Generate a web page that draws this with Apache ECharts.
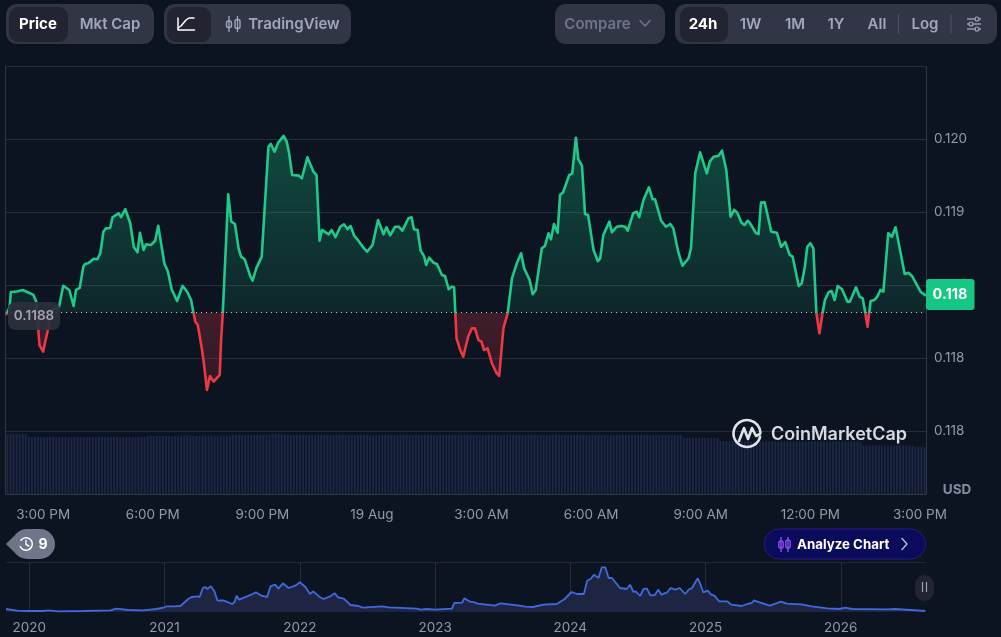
<!DOCTYPE html>
<html>
<head>
<meta charset="utf-8">
<style>html,body{margin:0;padding:0;background:#0d1421;overflow:hidden}#c{width:1001px;height:637px}</style>
<script src="https://cdn.jsdelivr.net/npm/echarts@6/dist/echarts.min.js"></script>
</head>
<body>
<div id="c"></div>
<script>
// minutes after 3:00 PM on 18 Aug
const minutes = [-61,-55,-53,-43,-34,-26,-16,-11,-10,-8,-6,0,3,7,11,16,26,33,43,45,50,54,60,66,69,74,83,89,94,99,103,110,114,124,128,135,143,149,155,159,165,169,177,184,189,199,205,211,220,229,237,243,247,250,254,261,264,269,274,280,290,292,295,304,309,315,321,325,331,340,344,350,359,370,374,380,386,395,400,404,409,420,425,434,444,449,454,458,469,474,480,488,494,500,505,511,516,526,532,535,541,550,559,564,570,578,584,590,600,605,609,615,620,626,629,634,641,647,655,660,666,671,675,677,679,685,690,698,704,709,715,720,724,730,737,745,749,756,763,770,778,785,790,799,804,809,819,824,830,834,839,845,849,854,864,869,875,879,885,890,895,904,911,915,920,930,934,942,950,956,960,969,975,979,986,995,1001,1005,1015,1023,1026,1030,1035,1043,1050,1060,1064,1071,1079,1090,1095,1101,1109,1115,1122,1129,1135,1140,1147,1152,1157,1161,1171,1175,1179,1185,1196,1205,1212,1219,1226,1231,1241,1246,1251,1255,1260,1265,1270,1275,1280,1284,1290,1295,1300,1305,1312,1321,1325,1335,1341,1346,1350,1354,1359,1365,1370,1375,1380,1388,1394,1400,1415,1421,1427,1441,1450];
const prices = [0.118795,0.118849,0.118952,0.118956,0.118966,0.118952,0.118932,0.118884,0.118795,0.118692,0.118589,0.118543,0.118603,0.118678,0.118774,0.118829,0.118849,0.118995,0.118966,0.118954,0.118856,0.118966,0.118980,0.119125,0.119144,0.119149,0.119180,0.119176,0.119219,0.119365,0.119388,0.119390,0.119464,0.119491,0.119464,0.119519,0.119423,0.119258,0.119224,0.119358,0.119240,0.119279,0.119274,0.119303,0.119406,0.119149,0.119091,0.118971,0.118890,0.118995,0.118950,0.118897,0.118806,0.118749,0.118726,0.118555,0.118464,0.118281,0.118377,0.118338,0.118384,0.118601,0.118806,0.119621,0.119434,0.119418,0.119251,0.119194,0.119176,0.119062,0.119030,0.119114,0.119194,0.119947,0.119966,0.119913,0.119975,0.120021,0.119982,0.119902,0.119753,0.119749,0.119731,0.119875,0.119776,0.119753,0.119303,0.119377,0.119347,0.119377,0.119327,0.119399,0.119416,0.119382,0.119404,0.119336,0.119313,0.119256,0.119228,0.119221,0.119274,0.119445,0.119347,0.119395,0.119340,0.119399,0.119399,0.119372,0.119457,0.119464,0.119382,0.119377,0.119235,0.119194,0.119137,0.119187,0.119153,0.119142,0.119069,0.119062,0.118971,0.118988,0.118984,0.118806,0.118635,0.118555,0.118509,0.118646,0.118703,0.118703,0.118623,0.118612,0.118555,0.118566,0.118464,0.118395,0.118377,0.118706,0.118806,0.119046,0.119149,0.119217,0.119114,0.119034,0.118936,0.118966,0.119251,0.119267,0.119354,0.119313,0.119418,0.119358,0.119616,0.119635,0.119753,0.119765,0.120009,0.119861,0.119817,0.119486,0.119479,0.119240,0.119164,0.119183,0.119342,0.119434,0.119361,0.119399,0.119404,0.119399,0.119372,0.119491,0.119502,0.119464,0.119582,0.119669,0.119587,0.119587,0.119440,0.119399,0.119388,0.119418,0.119388,0.119228,0.119132,0.119183,0.119251,0.119765,0.119909,0.119765,0.119845,0.119879,0.119884,0.119920,0.119788,0.119468,0.119514,0.119495,0.119427,0.119411,0.119440,0.119423,0.119354,0.119349,0.119564,0.119566,0.119365,0.119358,0.119262,0.119293,0.119206,0.119194,0.118993,0.119012,0.119125,0.119262,0.119286,0.119251,0.118806,0.118669,0.118806,0.118897,0.118950,0.118959,0.118897,0.118993,0.118971,0.118886,0.118886,0.118984,0.118920,0.118909,0.118817,0.118714,0.118890,0.118897,0.118920,0.118966,0.118954,0.119354,0.119331,0.119395,0.119075,0.119084,0.119062,0.118954,0.118927];
const basePrice = 0.11881;
const basePriceLabel = '0.1188';
const lastPriceLabel = '0.118';
const timeTicks = [0,180,360,540,720,900,1080,1260,1440];
const timeLabels = ['3:00 PM','6:00 PM','9:00 PM','19 Aug','3:00 AM','6:00 AM','9:00 AM','12:00 PM','3:00 PM'];
const priceTicks = [0.1175,0.118,0.1185,0.119,0.1195,0.12,0.1205];
const priceLabels = ['','0.118','0.118','','0.119','0.120',''];
const volumes = [
60,60,60,60,60,60,60,57,57,57,57,57,57,57,57,57,57,57,57,57,
57,57,57,57,57,57,57,57,57,57,57,57,57,57,57,57,57,57,57,57,
57,57,57,57,57,57,58,58,58,58,58,58,58,58,57.5,57.5,58,58.5,58.5,58.5,
58.5,58.5,58,58,58.5,58.5,58.5,58.5,58,58,58.5,58.5,58.5,58.5,59,59,59,59,59,59,
59,59,59,59,59,59,59,60,60,60,59.5,59.5,59,59,59,59,59,59,59,59,
59,59,59.5,59,59,59,59,59,59,59,59,59,59,59,59,59,59,59,59,59,
59,58.5,59,59,59,59,59,59,59,59,59,59,59,59,59,59,59,59,59,59,
59,59,59,59,59,59,59,59,59,59,59,59,59,59,59,59,59,59,59,59,
59,59,59,59,59.5,59.5,59,59,59,59,59,59,59,59,59,59,59,59,59,59,
59.5,59,59,59,59,59,59,59,59,59,59,59,59,59,59,59,59,59,59,59,
59,59,59,59,59,59,59,59,59,59,59,59,59,59,59,59,59,59,59,59,
59,59,56,56,56,56,56,56,56,56,56,56,56,56,53,53,53,53,53,52.5,
52.5,52.5,52.5,52.5,52.5,52.5,52.5,52.5,52.5,52.5,52.5,52.5,52.5,52.5,52.5,52.5,52.5,52.5,52.5,52.5,
52.5,52.5,52.5,52.5,52.5,52.5,52.5,52.5,52.5,52.5,52.5,52.5,52.5,52.5,52.5,52.5,52.5,52.5,52.5,52.5,
52,48.5,48.5,48.5,48.5,48.5,48.5,48.5,48.5,48.5,48.5,48.5,48.5,48.5,48.5,48.5,48.5,48.5,47,47,
47,47];
// all-time overview: months after Jan 2020, and price index
const navMonths = [-2.07,-1.1,0,1.2,1.7,2.6,4.8,7.2,7.7,8.8,10.1,11.3,12,12.2,12.9,13.4,14.1,14.4,14.9,15.1,15.4,15.6,15.8,16.1,16.4,16.7,17.2,18,18.2,18.4,18.6,19.1,19.7,20.1,20.6,21.1,21.4,21.8,22.1,22.5,23,23.6,24,24.5,24.6,24.9,25.2,25.8,26.1,26.7,27.1,27.4,27.9,28.5,29.2,29.6,31.3,31.9,34.4,34.7,35.3,36,37.5,37.7,38.4,38.6,39.1,39.5,39.8,41.3,41.8,43.5,44,44.7,45.6,46.8,47.5,48.1,48.6,49.2,49.5,49.8,50.1,50.5,50.8,51.1,51.4,51.7,52.4,53,53.3,53.6,53.8,54.2,54.5,54.8,55.1,55.5,55.8,56.1,56.6,56.9,57.3,57.7,58.2,58.5,58.8,59.3,59.5,59.8,60.2,60.5,60.8,61.2,61.9,62.3,63.2,63.8,64.1,64.3,64.8,65.7,66.7,67.2,68.5,69.4,70.8,71.9,72.4,73,76.1,76.8,79.5];
const navValues = [3,1.3,1,1,1.7,0.7,1,1.7,3.3,2,1.7,3,4.7,5.7,5.7,6,13,15,15.7,14.7,24,25,23,25.7,21.3,11.3,11.7,8,9.7,16.3,12.3,14.7,17.3,19.7,16.3,15,25.7,27.3,23.3,28.7,24,26.3,29.7,25,26.3,18,20.7,14.7,13,15.7,18.7,14.7,13.3,7,6,4.3,5.7,4.7,3.3,2.3,3,2.3,3.3,9,9.3,13.7,10.3,9.7,8.3,6.3,8.7,6.3,5.3,5,7.3,8,13,20,18,18,31.3,33,37.3,34,44.7,44.7,34,34,24,23,27.3,20,20.7,16,23,23.3,16.7,17,22.3,17.3,19.7,24,22.3,24,18,22.3,24,33.7,29,19.7,21.3,17.3,16.3,10.7,10.7,7.3,6,8.3,9,11.7,9.7,6.3,10.3,8.3,7.7,5.7,3.7,3,4.3,3,2.7,3,1];
const navTicks = [0,12,24,36,48,60,72];
const navLabels = ['2020','2021','2022','2023','2024','2025','2026'];
const leftTabs = ['Price','Mkt Cap'];
const rangeTabs = ['24h','1W','1M','1Y','All','Log'];

const UP='#1fc98a', DOWN='#ea3943', BORDER='#272c3a', PILL='#323546', ACTIVE='#222531', MUTED='#a1a7bb', AXIS='#9399ad';
const FONT='Inter, "Noto Sans", sans-serif';
const maxP=Math.max(...prices), minP=Math.min(...prices), split=(maxP-basePrice)/(maxP-minP);

const rect=(x,y,w,h,r,fill,extra)=>({type:'rect',silent:true,z:50,shape:{x,y,width:w,height:h,r},style:Object.assign({fill},extra||{})});
const label=(t,x,y,fill,font,align)=>({type:'text',silent:true,z:60,x,y,style:{text:t,fill,font:font+' '+FONT,textAlign:align||'center',textVerticalAlign:'middle'}});
const poly=(pts,stroke,w)=>({type:'polyline',silent:true,z:60,shape:{points:pts},style:{stroke,lineWidth:w||1.5,fill:null,lineCap:'round',lineJoin:'round'}});
const seg=(x1,y1,x2,y2,stroke,w)=>({type:'line',silent:true,z:60,shape:{x1,y1,x2,y2},style:{stroke,lineWidth:w||1}});
const candleIcon=(x,c)=>[
  seg(x,16,x,32,c,1.3),seg(x+8.5,16,x+8.5,32,c,1.3),
  rect(x-2.5,21,5,6.5,2,PILL,{stroke:c,lineWidth:1.4}),rect(x+6,19.5,5,9,2,PILL,{stroke:c,lineWidth:1.4})];

const chrome=[
  // frame of the price pane
  {type:'polyline',silent:true,z:0,shape:{points:[[5.5,494],[5.5,66.5],[926.5,66.5],[926.5,494]]},style:{stroke:PILL,lineWidth:1,fill:null}},
  // left tabs
  rect(6,4,148,40,11,PILL),rect(9,7,59,35,9,ACTIVE),
  label(leftTabs[0],38,24.5,'#fff','700 15px'),label(leftTabs[1],110,24.5,MUTED,'600 15px'),
  // chart type tabs
  rect(164,4,187,40,11,PILL),rect(167,7,44,35,9,ACTIVE),
  poly([[178,18],[178,30],[194.5,30]],'#fff',1.5),poly([[178,28],[181,26],[186,20],[189,18],[194,18]],'#fff',1.5),
  ...candleIcon(229,MUTED),
  label('TradingView',294,24.5,MUTED,'600 15px'),
  // compare
  rect(555,4,110,40,11,PILL),label('Compare',597.5,24.5,'#6f7588','600 15px'),
  poly([[640,20.5],[645,26],[650,20.5]],'#6f7588',1.5),
  // range tabs
  rect(675,4,322,40,11,PILL),rect(680,7,48,35,9,ACTIVE),
  label(rangeTabs[0],703,24.5,'#fff','700 15px'),label(rangeTabs[1],750.5,24.5,MUTED,'600 15px'),
  label(rangeTabs[2],795,24.5,MUTED,'600 15px'),label(rangeTabs[3],836,24.5,MUTED,'600 15px'),
  label(rangeTabs[4],877,24.5,MUTED,'600 15px'),seg(898.5,14,898.5,34,'#4a4e60',1.2),
  label(rangeTabs[5],925,24.5,MUTED,'600 15px'),seg(951,14,951,34,'#4a4e60',1.2),
  seg(967,19,981,19,MUTED,1.3),seg(967,24,981,24,MUTED,1.3),seg(967,29,981,29,MUTED,1.3),
  {type:'circle',silent:true,z:61,shape:{cx:977,cy:19,r:2},style:{fill:PILL,stroke:MUTED,lineWidth:1.2}},
  {type:'circle',silent:true,z:61,shape:{cx:971,cy:24,r:2},style:{fill:PILL,stroke:MUTED,lineWidth:1.2}},
  {type:'circle',silent:true,z:61,shape:{cx:977,cy:29,r:2},style:{fill:PILL,stroke:MUTED,lineWidth:1.2}},
  // price tags
  rect(8,302,52,28,7,'rgba(44,47,60,0.93)'),label(basePriceLabel,34,316,'#a0a5b4','600 13.5px'),
  rect(926,279,48.5,31,3,'#16c784'),label(lastPriceLabel,950,295,'#fff','700 14.5px'),
  label('USD',957,490,'#858ca2','700 13.5px'),
  // watermark
  {type:'arc',silent:true,z:60,shape:{cx:747,cy:433.5,r:13.5,startAngle:0.25,endAngle:Math.PI*1.98,clockwise:true},style:{stroke:'#dfe3ea',lineWidth:2.6,fill:null,lineCap:'round'}},
  poly([[739,441],[744,428],[748,439],[752,428],[756,436],[760,434]],'#dfe3ea',2.6),
  label('CoinMarketCap',771,435,'#d7dbe3','600 18px','left'),
  // history pill
  rect(12,529,43,30,15,'#70768a'),
  {type:'polygon',silent:true,z:50,shape:{points:[[6,544],[14,536],[14,552]]},style:{fill:'#70768a'}},
  {type:'arc',silent:true,z:60,shape:{cx:26,cy:544,r:6.3,startAngle:-2.6,endAngle:2.8,clockwise:true},style:{stroke:'#fff',lineWidth:1.5,fill:null}},
  poly([[26,540.5],[26,544.5],[29,546]],'#fff',1.4),
  label('9',43,544.5,'#fff','700 14px'),
  // analyze pill
  rect(764.5,529,161,30,15,'#0a0b5a',{stroke:'#2a1a88',lineWidth:1}),
  seg(781,537,781,552,'#8a4df0',1.4),seg(788,537,788,552,'#8a4df0',1.4),
  rect(778.8,541,4.4,7,1.8,'#0a0b5a',{stroke:'#8a4df0',lineWidth:1.4}),rect(785.8,540,4.4,8,1.8,'#0a0b5a',{stroke:'#8a4df0',lineWidth:1.4}),
  label('Analyze Chart',797,544.5,'#fff','700 13.3px','left'),
  poly([[902,538.5],[907,544],[902,549.5]],'#b9bdd0',1.4),
  // overview pause handle
  rect(915,575,19,26,9.5,'#222531'),seg(922.5,582,922.5,592,'#9aa0b2',1.2),seg(926.5,582,926.5,592,'#9aa0b2',1.2)
];

const chart=echarts.init(document.getElementById('c'),null,{renderer:'canvas',width:1001,height:637});
chart.setOption({
  animation:false,
  backgroundColor:'#0d1421',
  textStyle:{fontFamily:FONT},
  grid:[
    {left:6,width:920,top:66,height:438},
    {left:6,width:920,top:434,height:60},
    {left:6,width:920,top:562,height:50}
  ],
  xAxis:[
    {type:'value',gridIndex:0,min:-61,max:1450,splitLine:{show:false},axisLine:{show:false},axisTick:{show:false},
     axisLabel:{customValues:timeTicks,formatter:v=>timeLabels[timeTicks.indexOf(v)]||'',color:AXIS,fontSize:13.5,fontFamily:FONT,margin:3.5}},
    {type:'category',gridIndex:1,data:volumes.map((_,i)=>i),axisLine:{lineStyle:{color:PILL}},axisTick:{show:false},axisLabel:{show:false}},
    {type:'value',gridIndex:2,min:-2.07,max:79.56,splitLine:{show:false},axisLine:{show:false},
     axisTick:{show:true,customValues:navTicks,inside:true,length:50,lineStyle:{color:'#262b3a'}},
     axisLabel:{customValues:navTicks,formatter:v=>navLabels[navTicks.indexOf(v)]||'',color:AXIS,fontSize:13.5,fontFamily:FONT,margin:9}}
  ],
  yAxis:[
    {type:'value',gridIndex:0,position:'right',min:0.1175,max:0.1205,interval:0.0005,
     axisLine:{show:false},axisTick:{show:false},
     splitLine:{show:true,showMinLine:false,lineStyle:{color:BORDER}},
     axisLabel:{formatter:v=>{const i=priceTicks.findIndex(p=>Math.abs(p-v)<1e-7);return i<0?'':priceLabels[i];},color:AXIS,fontSize:13.5,fontFamily:FONT,margin:8}},
    {type:'value',gridIndex:1,min:0,max:60,show:false},
    {type:'value',gridIndex:2,min:0,max:50,axisLine:{show:false},axisTick:{show:false},axisLabel:{show:false},
     splitLine:{show:false}}
  ],
  visualMap:{type:'piecewise',show:false,seriesIndex:0,dimension:1,
    pieces:[{gt:basePrice,lte:1,color:UP},{gt:0,lte:basePrice,color:DOWN}]},
  series:[
    {type:'line',name:'Price',xAxisIndex:0,yAxisIndex:0,z:5,showSymbol:false,symbol:'none',
     data:minutes.map((t,i)=>[t,prices[i]]),lineStyle:{width:2.6,join:'round'},
     areaStyle:{origin:basePrice,opacity:1,color:{type:'linear',x:0,y:0,x2:0,y2:1,colorStops:[
       {offset:0,color:'rgba(22,199,132,0.30)'},
       {offset:split,color:'rgba(22,199,132,0.10)'},
       {offset:split,color:'rgba(234,57,67,0.24)'},
       {offset:1,color:'rgba(234,57,67,0.14)'}]}},
     markLine:{silent:true,symbol:'none',animation:false,precision:6,label:{show:false},
       lineStyle:{color:'#c9cedb',type:[1,4],width:1},data:[{yAxis:basePrice}]}},
    {type:'bar',name:'Volume',xAxisIndex:1,yAxisIndex:1,z:1,barWidth:1.8,itemStyle:{color:'#1d2848'},data:volumes},
    {type:'line',name:'All time',xAxisIndex:2,yAxisIndex:2,showSymbol:false,symbol:'none',
     data:navMonths.map((m,i)=>[m,navValues[i]]),lineStyle:{width:1.8,color:'#4169dc'},
     areaStyle:{color:'#1e2543',opacity:1}}
  ],
  graphic:[...chrome,{type:'line',silent:true,z:0,shape:{x1:6,y1:562.5,x2:926,y2:562.5},style:{stroke:'#232735',lineWidth:1}}]
});
</script>
</body>
</html>
